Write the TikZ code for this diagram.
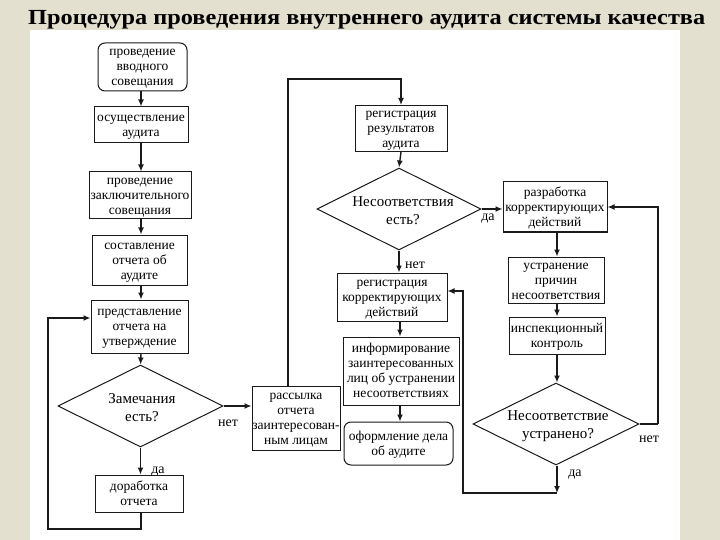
\documentclass[tikz,border=0pt]{standalone}
\usepackage{fontspec}
\setmainfont{Liberation Serif}
\usetikzlibrary{arrows.meta,shapes.geometric}
\definecolor{bgbeige}{HTML}{E3E0D0}
\definecolor{linecol}{HTML}{1A1A1A}
\newcommand\mystrtop{\rule{0pt}{12pt}}
\newcommand\mystrbot{\rule[-4pt]{0pt}{4pt}}
\begin{document}
\begin{tikzpicture}[x=1pt,y=-1pt,
  box/.style={draw=linecol, line width=1pt, align=center, inner sep=0pt,
    font=\fontsize{13.5}{15}\selectfont},
  rbox/.style={box, rounded corners=7pt},
  dia/.style={draw=linecol, diamond, line width=1pt, inner sep=0pt},
  dtext/.style={align=center, inner sep=0pt, font=\fontsize{15}{18}\selectfont},
  lab/.style={inner sep=0pt, font=\fontsize{14}{16}\selectfont},
  arr/.style={draw=linecol, line width=1.4pt, -{Latex[length=7pt,width=6pt]}},
  ln/.style={draw=linecol, line width=1.4pt}]
\useasboundingbox (0,0) rectangle (720,540);
\fill[bgbeige] (0,0) rectangle (720,540);
\fill[white] (30,30) rectangle (680,540);
\node[anchor=base west, inner sep=0pt, font=\fontsize{21.5}{24}\selectfont\bfseries] (title) at (28,25)
  {\scalebox{1.13}[1]{Процедура проведения внутреннего аудита системы качества}};

% left column
\node[rbox, minimum width=89pt, minimum height=48pt] (intro) at (142.5,67) {\mystrtop проведение\\вводного\\совещания\mystrbot};
\node[box, minimum width=94pt, minimum height=36pt] (osush) at (141,125) {\mystrtop осуществление\\аудита\mystrbot};
\node[box, minimum width=102pt, minimum height=47pt] (zakl) at (140,195.5) {\mystrtop проведение\\заключительного\\совещания\mystrbot};
\node[box, minimum width=95pt, minimum height=50pt] (sost) at (139.5,260) {\mystrtop составление\\отчета об\\аудите\mystrbot};
\node[box, minimum width=97pt, minimum height=53pt] (pred) at (139.5,326.5) {\mystrtop представление\\отчета на\\утверждение\mystrbot};
\node[dia, minimum width=165pt, minimum height=82pt] (zam) at (140.5,406) {};
\node[dtext] (zamt) at (142,408) {Замечания\\есть?};
\node[box, minimum width=88pt, minimum height=37pt] (dorab) at (139,493.5) {\mystrtop доработка\\отчета\mystrbot};

% middle column
\node[box, minimum width=88pt, minimum height=64pt] (ras) at (296,418) {\mystrtop рассылка\\отчета\\заинтересован-\\ным лицам\mystrbot};
\node[box, minimum width=92pt, minimum height=45pt] (rr) at (401,128.5) {\mystrtop регистрация\\результатов\\аудита\mystrbot};
\node[dia, minimum width=164pt, minimum height=82pt] (nes) at (399,209) {};
\node[dtext] (nest) at (403,211) {Несоответствия\\есть?};
\node[box, minimum width=110pt, minimum height=48pt] (rk) at (392,297) {\mystrtop регистрация\\корректирующих\\действий\mystrbot};
\node[box, minimum width=116pt, minimum height=68pt] (inf) at (401,371) {\mystrtop информирование\\заинтересованных\\лиц об устранении\\несоответствиях\mystrbot};
\node[rbox, minimum width=109pt, minimum height=43pt] (oform) at (398.5,443.5) {\mystrtop оформление дела\\об аудите\mystrbot};

% right column
\node[box, minimum width=104pt, minimum height=50pt] (raz) at (555,207) {\mystrtop разработка\\корректирующих\\действий\mystrbot};
\node[box, minimum width=96pt, minimum height=46pt] (ustr) at (556,280) {\mystrtop устранение\\причин\\несоответствия\mystrbot};
\node[box, minimum width=96pt, minimum height=37pt] (insp) at (557,335.5) {\mystrtop инспекционный\\контроль\mystrbot};
\node[dia, minimum width=166pt, minimum height=82pt] (ust) at (556,424) {};
\node[dtext] (ustt) at (558,426) {Несоответствие\\устранено?};

% labels
\node[lab] (l1) at (228,423) {нет};
\node[lab] (l2) at (158,472) {да};
\node[lab] (l3) at (488,219) {да};
\node[lab] (l4) at (415,265) {нет};
\node[lab] (l5) at (649,439) {нет};
\node[lab] (l6) at (575,475) {да};

% helper coordinates
\coordinate (c1) at (288,79);
\coordinate (c3) at (48,529);
\coordinate (c4) at (48,318);
\coordinate (c5) at (658,424);
\coordinate (c6) at (557,493);
\coordinate (c7) at (463,493);
\coordinate (c8) at (463,291);

% left column connectors
\draw[arr] (intro.south -| 141,0) -- (osush.north -| 141,0);
\draw[arr] (osush.south -| 141,0) -- (zakl.north -| 141,0);
\draw[arr] (zakl.south -| 141,0) -- (sost.north -| 141,0);
\draw[arr] (sost.south -| 141,0) -- (pred.north -| 141,0);
\draw[arr] (pred.south -| 141,0) -- (zam.north);
\draw[arr] (zam.south) -- (zam.south |- dorab.north);
\draw[arr] (dorab.south -| 141,0) |- (c3) -- (c4) -- (c4 -| pred.west);
\draw[arr] (zam.east) -- (zam.east -| ras.west);

% middle connectors
\draw[arr] (ras.north -| c1) -- (c1) -| (rr.north);
\draw[arr] (rr.south) -- (nes.north);
\draw[arr] (nes.east) -- (nes.east -| raz.west);
\draw[arr] (nes.south) -- (nes.south |- rk.north);
\draw[arr] (rk.south -| 400,0) -- (inf.north -| 400,0);
\draw[arr] (inf.south -| 400,0) -- (oform.north -| 400,0);

% right connectors
\draw[arr] (raz.south -| 557,0) -- (ustr.north -| 557,0);
\draw[arr] (ustr.south -| 557,0) -- (insp.north -| 557,0);
\draw[arr] (insp.south -| 557,0) -- (ust.north -| 557,0);
\draw[ln] (ust.east) -- (c5);
\draw[arr] (c5) |- (raz.east);
\draw[arr] (ust.south -| 557,0) -- (c6);
\draw[arr] (c6) -- (c7) -- (c8) -- (c8 -| rk.east);
\end{tikzpicture}
\end{document}
